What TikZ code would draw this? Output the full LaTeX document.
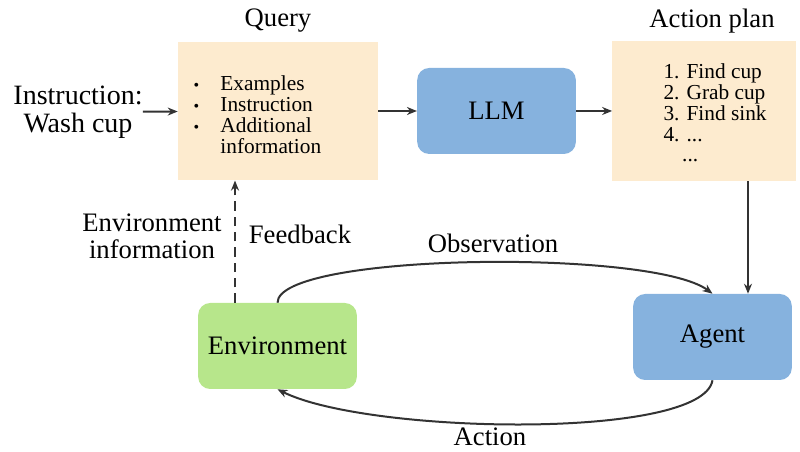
\documentclass[tikz,border=0pt]{standalone}
\usepackage{fontspec}
\setmainfont{Liberation Serif}
\usetikzlibrary{arrows.meta,positioning}
\definecolor{qfill}{HTML}{FDEBCF}
\definecolor{llmblue}{HTML}{86B2DE}
\definecolor{envgreen}{HTML}{B7E68B}
\definecolor{arrowgrey}{HTML}{333333}

\begin{document}
\begin{tikzpicture}[
  x=0.75pt,y=0.75pt,
  panel/.style={fill=qfill,minimum width=150pt,minimum height=104pt,inner sep=0pt,
     font=\fontsize{16}{15.5}\selectfont},
  unit/.style={fill=llmblue,rounded corners=9pt,minimum width=119pt,minimum height=64.5pt,
     font=\fontsize{20}{24}\selectfont},
  head/.style={font=\fontsize{20}{24}\selectfont,inner sep=0pt},
  note/.style={font=\fontsize{20}{20}\selectfont,align=center,inner sep=0pt},
  flow/.style={-{Stealth[length=7.5pt,width=6pt]},line width=1.5pt,color=arrowgrey}
]
\useasboundingbox (0,0) rectangle (800,452);
% top row
\node[panel] (query) at (278,341) {\begin{tabular}{@{}c@{\hspace{16pt}}l@{\hspace{31pt}}}
  \noalign{\vskip 10.5pt}
  {\fontsize{12}{12}\selectfont\textbullet} & Examples\\
  {\fontsize{12}{12}\selectfont\textbullet} & Instruction\\
  {\fontsize{12}{12}\selectfont\textbullet} & Additional\\
  & information
\end{tabular}};
\node[unit,right=29pt of query] (llm) {LLM};
\node[panel,minimum width=138pt,minimum height=105pt,right=27pt of llm] (plan) {\begin{tabular}{@{\hspace{16pt}}l@{}}
  \noalign{\vskip 7.5pt}
  1. Find cup\\
  2. Grab cup\\
  3. Find sink\\
  4. ...\\
  \hspace{14pt}...
\end{tabular}};
\node[head] (qlabel) at (278,431) {Query};
\node[head] (plabel) at (712,431) {Action plan};
\node[note,font=\fontsize{21}{21}\selectfont] (instr) at (78,340) {Instruction:\\Wash cup};
\draw[flow] (instr) -- (query);
\draw[flow] (query) -- (llm);
\draw[flow] (llm) -- (plan);
% loop
\node[unit] (agent) at (712.5,115) {Agent};
\node[unit,fill=envgreen] (env) at (277.5,106) {Environment};
\coordinate (drop) at (748,0);
\coordinate (fb) at (235,0);
\draw[flow] (plan.south -| drop) -- (agent.north -| drop);
\draw[flow,dash pattern=on 7pt off 4.5pt] (env.north -| fb) -- (query.south -| fb);
\draw[flow] (env.north) .. controls +(0,50) and +(-60,45) .. (agent.north);
\draw[flow] (agent.south) .. controls +(-10,-60) and +(90,-45) .. (env.south);
\node[note] (envinfo) at (152,216) {Environment\\information};
\node[note] (feedback) at (300,218) {Feedback};
\node[note] (obs) at (493,209) {Observation};
\node[note] (act) at (490,15) {Action};
\end{tikzpicture}
\end{document}
